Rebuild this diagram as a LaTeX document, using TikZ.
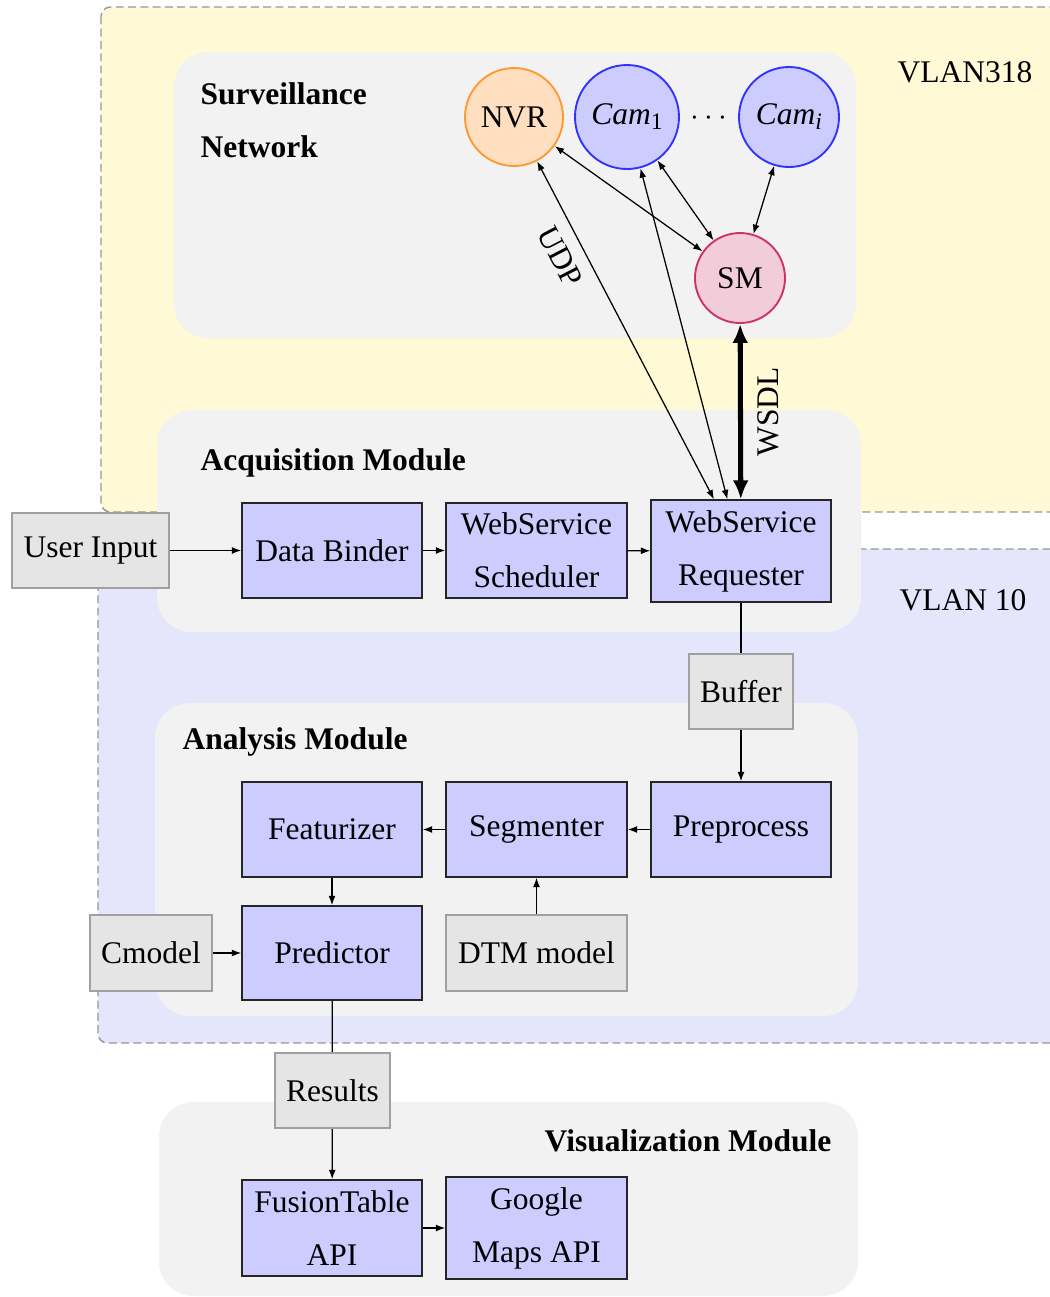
\documentclass[tikz,border=0pt]{standalone}
\usepackage{fontspec}
\setmainfont{Liberation Serif}
\usetikzlibrary{arrows.meta}
\definecolor{vlanyellow}{RGB}{255,249,214}
\definecolor{vlanblue}{RGB}{229,229,252}
\definecolor{modgray}{RGB}{242,242,242}
\definecolor{boxblue}{RGB}{204,204,255}
\definecolor{boxgray}{RGB}{229,229,229}
\definecolor{regionline}{RGB}{150,150,150}
\definecolor{dataline}{RGB}{160,160,160}
\begin{document}
\begin{tikzpicture}[x=0.3175pt,y=-0.3175pt,
  font=\fontsize{10}{16.8}\selectfont,
  region/.style={draw=regionline, dash pattern=on 2.5pt off 1.4pt, line width=0.45pt, rounded corners=3pt},
  module/.style={fill=modgray, rounded corners=11pt},
  sz/.style 2 args={minimum width=#1*0.3175pt, minimum height=#2*0.3175pt},
  proc/.style={draw=black!85, fill=boxblue, line width=0.45pt, align=center, inner sep=0pt},
  datab/.style={draw=dataline, fill=boxgray, line width=0.7pt, align=center, inner sep=0pt},
  dev/.style={circle, line width=0.6pt, inner sep=0pt},
  title/.style={font=\fontsize{10}{16.8}\selectfont\bfseries, align=left, inner sep=0pt},
  link/.style={-{Latex[length=3pt,width=2.2pt]}},
  twoway/.style={{Latex[length=3pt,width=2.2pt]}-{Latex[length=3pt,width=2.2pt]}},
  bigway/.style={line width=1.6pt, {Latex[length=6pt,width=5pt]}-{Latex[length=6pt,width=5pt]}}
]
\useasboundingbox (0,0) rectangle (1050,1297);
\clip (0,0) rectangle (1050,1297);

% VLAN regions
\draw[region, fill=vlanyellow] (101,7) rectangle (1080,512);
\draw[region, fill=vlanblue] (98,549) rectangle (1080,1043);
\node (vlanA) at (965,72) {VLAN318};
\node (vlanB) at (963,600) {VLAN 10};

% module backgrounds
\fill[module] (174,52) rectangle (856,338);
\fill[module] (157,410) rectangle (861,632);
\fill[module] (155,703) rectangle (858,1016);
\fill[module] (159,1102) rectangle (858,1296);

\node[title, anchor=west] (tSurv) at (200,120) {Surveillance\\Network};
\node[title, anchor=west] (tAcq) at (200,463) {Acquisition Module};
\node[title, anchor=west] (tAna) at (182,742) {Analysis Module};
\node[title, anchor=east] (tVis) at (832,1141) {Visualization Module};

% surveillance devices
\node[dev, draw=orange!80, fill=orange!25, minimum size=98*0.3175pt] (nvr) at (514,117) {NVR};
\node[dev, draw=blue!80, fill=boxblue, minimum size=104*0.3175pt] (cam1) at (627,117) {\textit{Cam}\raisebox{-0.35ex}{\fontsize{7.5}{8}\selectfont 1}};
\node (dots) at (709,118) {$\cdots$};
\node[dev, draw=blue!80, fill=boxblue, minimum size=100*0.3175pt] (cami) at (789,117) {\textit{Cam}\raisebox{-0.35ex}{\fontsize{7.5}{8}\selectfont\itshape i}};
\node[dev, draw=purple!80, fill=purple!20, minimum size=90*0.3175pt] (sm) at (740,278) {SM};

% acquisition
\node[datab, sz={157}{75}] (user) at (90.5,550.5) {User Input};
\node[proc, sz={180}{95}] (binder) at (332,550.5) {Data Binder};
\node[proc, sz={181}{95}] (sched) at (536.5,550.5) {WebService\\Scheduler};
\node[proc, sz={180}{102}] (req) at (741,551) {WebService\\Requester};
\node[datab, sz={104}{75}] (buffer) at (741,691.5) {Buffer};

% analysis
\node[proc, sz={180}{95}] (prep) at (741,829.5) {Preprocess};
\node[proc, sz={181}{95}] (seg) at (536.5,829.5) {Segmenter};
\node[proc, sz={180}{95}] (feat) at (332,829.5) {Featurizer};
\node[proc, sz={180}{94}] (pred) at (332,953) {Predictor};
\node[datab, sz={122}{76}] (cmodel) at (151,953) {Cmodel};
\node[datab, sz={181}{76}] (dtm) at (536.5,953) {DTM model};

% visualization
\node[datab, sz={115}{75}] (results) at (332.5,1090.5) {Results};
\node[proc, sz={180}{96}] (fusion) at (332,1228) {FusionTable\\API};
\node[proc, sz={181}{102}] (gmaps) at (536.5,1228) {Google\\Maps API};

% connectors
\draw[twoway] (nvr) -- (sm);
\draw[twoway] (cam1) -- (sm);
\draw[twoway] (cami) -- (sm);
\draw[twoway] (nvr) -- node[pos=0.25, rotate=-62.7, anchor=north, inner sep=4pt] {UDP} (req);
\draw[twoway] (cam1) -- (req);
\draw[bigway] (req) -- node[midway, rotate=90, anchor=north, inner sep=4.5pt] {WSDL} (sm);

\draw[link] (user) -- (binder);
\draw[link] (binder) -- (sched);
\draw[link] (sched) -- (req);
\draw (req) -- (buffer);
\draw[link] (buffer) -- (prep);
\draw[link] (prep) -- (seg);
\draw[link] (seg) -- (feat);
\draw[link] (feat) -- (pred);
\draw[link] (dtm) -- (seg);
\draw[link] (cmodel) -- (pred);
\draw (pred) -- (results);
\draw[link] (results) -- (fusion);
\draw[link] (fusion) -- (gmaps);
\end{tikzpicture}
\end{document}
